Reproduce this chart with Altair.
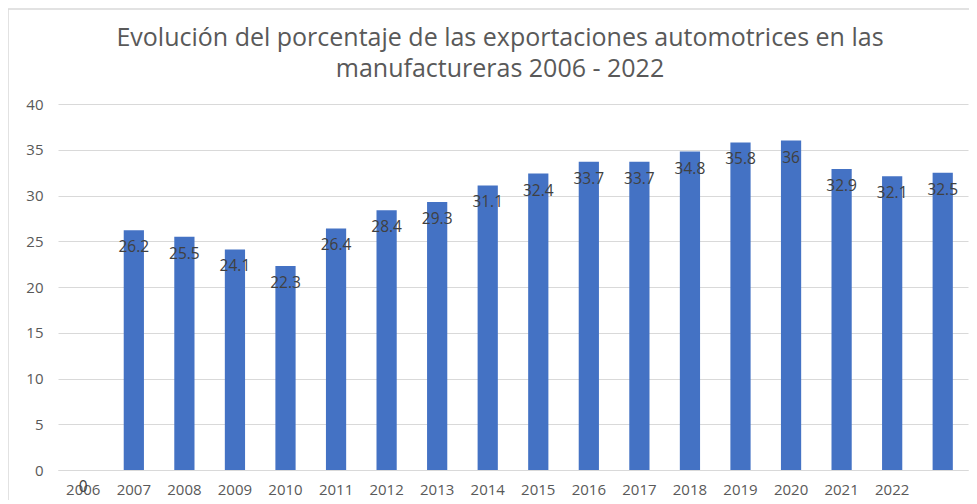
import altair as alt
import pandas as pd

categories = ["2006", "2007", "2008", "2009", "2010", "2011", "2012", "2013", "2014",
              "2015", "2016", "2017", "2018", "2019", "2020", "2021", "2022", " "]
values = [0, 26.2, 25.5, 24.1, 22.3, 26.4, 28.4, 29.3, 31.1, 32.4,
          33.7, 33.7, 34.8, 35.8, 36, 32.9, 32.1, 32.5]
y_ticks = [0, 5, 10, 15, 20, 25, 30, 35, 40]

df = pd.DataFrame({"cat": categories, "val": values})
df["lbl"] = [("%g" % v) for v in values]

FONT = "Open Sans"

x = alt.X("cat:N", sort=categories, title=None,
          scale=alt.Scale(paddingInner=0.6, paddingOuter=0.3),
          axis=alt.Axis(labelAngle=0, labelFont=FONT, labelFontSize=15, labelColor="#595959",
                        labelPadding=12, ticks=False, domainColor="#d9d9d9", grid=False))
y = alt.Y("val:Q", title=None,
          scale=alt.Scale(domain=[0, 40], nice=False),
          axis=alt.Axis(values=y_ticks, labelFont=FONT, labelFontSize=15, labelColor="#595959",
                        labelPadding=15, ticks=False, domain=False, gridColor="#d9d9d9"))

bars = alt.Chart(df).mark_bar(color="#4472C4").encode(x=x, y=y)
labels = alt.Chart(df).mark_text(font=FONT, fontSize=15.5, color="#404040", baseline="middle", dy=17).encode(
    x=alt.X("cat:N", sort=categories), y="val:Q", text="lbl:N")

# chart frame (top and left border of the original chart area)
frame_src = alt.Data(values=[{"k": 1}])
frame_top = alt.Chart(frame_src).mark_rule(color="#d9d9d9", strokeWidth=1.5).encode(
    x=alt.value(-50), x2=alt.value(935), y=alt.value(-95))
frame_left = alt.Chart(frame_src).mark_rule(color="#d9d9d9", strokeWidth=1.5).encode(
    x=alt.value(-50), y=alt.value(-95), y2=alt.value(420))

chart = alt.layer(bars, labels, frame_top, frame_left).properties(
    width=910, height=366,
    autosize=alt.AutoSizeParams(type="none"),
    padding={"left": 50, "top": 96, "right": 1, "bottom": 30},
    title=alt.TitleParams(
        text=["Evolución del porcentaje de las exportaciones automotrices en las",
              "manufactureras 2006 - 2022"],
        font=FONT, fontSize=25, fontWeight="normal", color="#595959",
        anchor="middle", dx=-13, offset=-74, lineHeight=31),
).configure_view(stroke=None)

chart.save("out.html", embed_options={"renderer": "svg", "actions": False})
